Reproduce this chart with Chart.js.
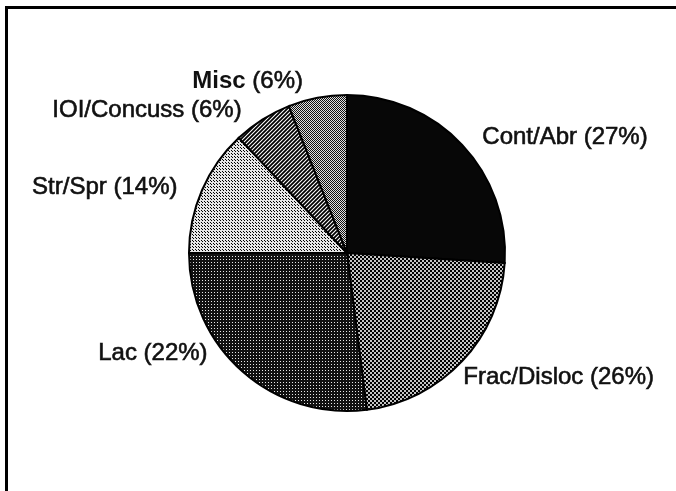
<!DOCTYPE html>
<html>
<head>
<meta charset="utf-8">
<script src="https://cdn.jsdelivr.net/npm/chart.js@4.4.0/dist/chart.umd.min.js"></script>
<style>
  html, body { margin: 0; padding: 0; background: #fff; }
  #wrap { position: relative; width: 676px; height: 491px; overflow: hidden; }
  #frame { position: absolute; left: 5px; top: 6px; right: -10px; bottom: -10px;
           border-top: 3px solid #000; border-left: 3px solid #000; }
  canvas { position: absolute; left: 0; top: 0; }
</style>
</head>
<body>
<div id="wrap">
  <div id="frame"></div>
  <canvas id="pie" width="676" height="491"></canvas>
</div>
<script>
// categories, clockwise from 12 o'clock
const categories = ['Cont/Abr', 'Frac/Disloc', 'Lac', 'Str/Spr', 'IOI/Concuss', 'Misc'];
// percentages as printed on the labels
const percentLabels = [27, 26, 22, 14, 6, 6];
const sliceValues = [26, 22, 27, 13, 6, 6];

// small tiled fills to imitate the halftone shading
function tile(size, draw) {
    const c = document.createElement('canvas');
    c.width = c.height = size;
    const g = c.getContext('2d');
    draw(g, size);
    return g.createPattern(c, 'repeat');
}

const fills = [
    '#070707',
    tile(4, (g) => { g.fillStyle = '#c4c4c4'; g.fillRect(0, 0, 4, 4); g.fillStyle = '#000'; g.fillRect(0, 0, 2, 2); g.fillRect(2, 2, 2, 2); }),
    tile(3, (g) => { g.fillStyle = '#111'; g.fillRect(0, 0, 3, 3); g.fillStyle = '#e8e8e8'; g.fillRect(1, 1, 1, 1); }),
    tile(3, (g) => { g.fillStyle = '#e6e6e6'; g.fillRect(0, 0, 3, 3); g.fillStyle = '#000'; g.fillRect(1, 1, 1, 1); g.fillRect(0, 0, 1, 1); }),
    tile(4, (g) => {
        g.fillStyle = '#fff'; g.fillRect(0, 0, 4, 4);
        g.strokeStyle = '#000'; g.lineWidth = 1.8;
        g.beginPath(); g.moveTo(-1, 5); g.lineTo(5, -1); g.moveTo(-1, 1); g.lineTo(1, -1); g.moveTo(3, 5); g.lineTo(5, 3); g.stroke();
    }),
    tile(2, (g) => { g.fillStyle = '#e0e0e0'; g.fillRect(0, 0, 2, 2); g.fillStyle = '#111'; g.fillRect(0, 0, 1, 1); g.fillRect(1, 1, 1, 1); })
];

// outside labels placed from each arc's mid angle
const outsideLabels = {
    id: 'outsideLabels',
    afterDatasetsDraw(chart, args, opts) {
        const ctx = chart.ctx;
        const arcs = chart.getDatasetMeta(0).data;
        ctx.save();
        ctx.fillStyle = '#111';
        ctx.strokeStyle = '#111';
        ctx.lineWidth = 0.6;
        ctx.textBaseline = 'middle';
        arcs.forEach((arc, i) => {
            const mid = (arc.startAngle + arc.endAngle) / 2;
            const r = arc.outerRadius + opts.gap;
            const nudge = opts.nudge[i];
            let x = arc.x + Math.cos(mid) * r + nudge[0];
            const y = arc.y + Math.sin(mid) * r + nudge[1];
            const name = categories[i];
            const pct = ' (' + percentLabels[i] + '%)';
            const nameFont = (opts.bold.includes(name) ? 'bold ' : '') + opts.size + 'px "Liberation Sans", Arial, sans-serif';
            const pctFont = opts.size + 'px "Liberation Sans", Arial, sans-serif';
            ctx.font = nameFont;
            const w1 = ctx.measureText(name).width;
            ctx.font = pctFont;
            const w2 = ctx.measureText(pct).width;
            if (Math.cos(mid) < 0) x -= (w1 + w2);
            ctx.textAlign = 'left';
            ctx.font = nameFont;
            ctx.fillText(name, x, y);
            if (!opts.bold.includes(name)) ctx.strokeText(name, x, y);
            ctx.font = pctFont;
            ctx.fillText(pct, x + w1, y);
            ctx.strokeText(pct, x + w1, y);
        });
        ctx.restore();
    }
};

const ctxPie = document.getElementById('pie').getContext('2d');
const pieChart = new Chart(ctxPie, {
    type: 'pie',
    data: {
        labels: categories,
        datasets: [{
            data: sliceValues,
            backgroundColor: fills,
            borderColor: '#000',
            borderWidth: 2,
            borderJoinStyle: 'miter'
        }]
    },
    options: {
        responsive: false,
        animation: false,
        radius: 158,
        layout: { padding: { left: 18, right: 0, top: 15, bottom: 0 } },
        plugins: {
            legend: { display: false },
            tooltip: { enabled: false },
            outsideLabels: {
                gap: 18,
                size: 24,
                bold: ['Misc'],
                nudge: [[7, 5], [-12, 4], [-23, -32], [-8, 4], [-11, 6], [-11, 1]]
            }
        }
    },
    plugins: [outsideLabels]
});
</script>
</body>
</html>
